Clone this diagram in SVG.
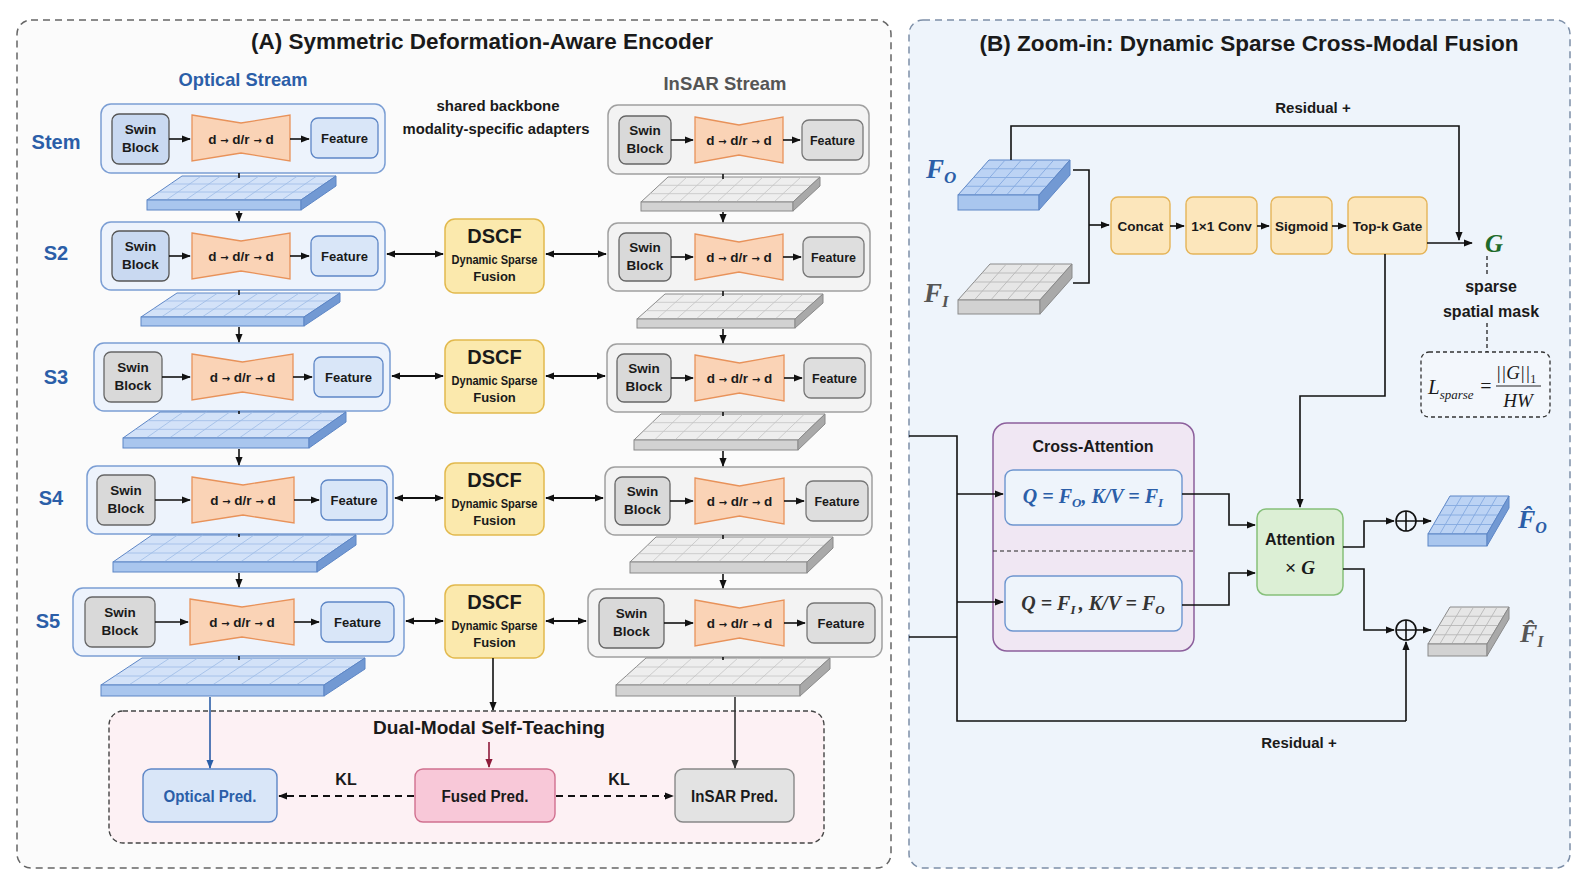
<svg xmlns="http://www.w3.org/2000/svg" xmlns:xlink="http://www.w3.org/1999/xlink" width="1588" height="886" viewBox="0 0 1588 886">
<style>
text{font-family:"Liberation Sans",Arial,sans-serif;font-weight:bold;fill:#1a1a1a;text-anchor:middle}
.t22{font-size:22px}
.t19{font-size:19px}
.t15{font-size:15px}
.t14{font-size:13.5px}
.t13{font-size:13px}
.t16{font-size:16px}
.blue{fill:#2b5ea8}
.gray{fill:#555}
.m{font-family:"Liberation Serif","DejaVu Serif",serif;font-style:italic}
.ar{font-family:"DejaVu Sans",sans-serif;font-size:10px}
.ln{fill:none;stroke:#111;stroke-width:1.6}
.la{fill:none;stroke:#111;stroke-width:1.6;marker-end:url(#a)}
.da{fill:none;stroke:#111;stroke-width:2;marker-start:url(#a);marker-end:url(#a)}
.oOut{fill:#edf3fc;stroke:#7b9ed4;stroke-width:1.5}
.iOut{fill:#f3f3f3;stroke:#a0a0a0;stroke-width:1.5}
.swB{fill:#c9d9f1;stroke:#555;stroke-width:1.3}
.swG{fill:#d9d9d9;stroke:#666;stroke-width:1.3}
.ftB{fill:#d9e6f8;stroke:#5d86c6;stroke-width:1.3}
.ftG{fill:#dedede;stroke:#777;stroke-width:1.3}
.bow{fill:#fad3b6;stroke:#e8925a;stroke-width:1.3}
.dscf{fill:#fbe9ad;stroke:#e2b94d;stroke-width:1.5}
.org{fill:#fce6bb;stroke:#e5b458;stroke-width:1.4}
.oFront{fill:#a9c6ee;stroke:#5d86c6;stroke-width:1}
.oSide{fill:#7299d3;stroke:#5d86c6;stroke-width:1}
.iFront{fill:#d2d2d2;stroke:#8a8a8a;stroke-width:1}
.iSide{fill:#a9a9a9;stroke:#8a8a8a;stroke-width:1}
</style>
<defs>
<marker id="a" viewBox="0 0 10 10" refX="9" refY="5" markerWidth="9" markerHeight="9" markerUnits="userSpaceOnUse" orient="auto-start-reverse"><path d="M0,1 L10,5 L0,9 Z" fill="#111"/></marker>
<marker id="ab" viewBox="0 0 10 10" refX="9" refY="5" markerWidth="9" markerHeight="9" markerUnits="userSpaceOnUse" orient="auto-start-reverse"><path d="M0,1 L10,5 L0,9 Z" fill="#2b5ea8"/></marker>
<marker id="ar" viewBox="0 0 10 10" refX="9" refY="5" markerWidth="9" markerHeight="9" markerUnits="userSpaceOnUse" orient="auto-start-reverse"><path d="M0,1 L10,5 L0,9 Z" fill="#8e1b3a"/></marker>
<marker id="ag" viewBox="0 0 10 10" refX="9" refY="5" markerWidth="9" markerHeight="9" markerUnits="userSpaceOnUse" orient="auto-start-reverse"><path d="M0,1 L10,5 L0,9 Z" fill="#333"/></marker>
<g id="gO8">
<rect x="0" y="0" width="1" height="1" fill="#d3e2f8" stroke="#5d86c6" stroke-width="1" vector-effect="non-scaling-stroke"/>
<path d="M0.125,0V1M0.25,0V1M0.375,0V1M0.5,0V1M0.625,0V1M0.75,0V1M0.875,0V1M0,0.333H1M0,0.667H1" stroke="#9dbbe6" stroke-width="0.8" fill="none" vector-effect="non-scaling-stroke"/>
</g>
<g id="gI8">
<rect x="0" y="0" width="1" height="1" fill="#eeeeee" stroke="#8a8a8a" stroke-width="1" vector-effect="non-scaling-stroke"/>
<path d="M0.125,0V1M0.25,0V1M0.375,0V1M0.5,0V1M0.625,0V1M0.75,0V1M0.875,0V1M0,0.333H1M0,0.667H1" stroke="#c4c4c4" stroke-width="0.8" fill="none" vector-effect="non-scaling-stroke"/>
</g>
<g id="gO5">
<rect x="0" y="0" width="1" height="1" fill="#bcd3f4" stroke="#5d86c6" stroke-width="1" vector-effect="non-scaling-stroke"/>
<path d="M0.2,0V1M0.4,0V1M0.6,0V1M0.8,0V1M0,0.25H1M0,0.5H1M0,0.75H1" stroke="#85a9e0" stroke-width="0.9" fill="none" vector-effect="non-scaling-stroke"/>
</g>
<g id="gI5">
<rect x="0" y="0" width="1" height="1" fill="#e6e6e6" stroke="#8a8a8a" stroke-width="1" vector-effect="non-scaling-stroke"/>
<path d="M0.2,0V1M0.4,0V1M0.6,0V1M0.8,0V1M0,0.25H1M0,0.5H1M0,0.75H1" stroke="#b8b8b8" stroke-width="0.9" fill="none" vector-effect="non-scaling-stroke"/>
</g>
</defs>

<rect x="0" y="0" width="1588" height="886" fill="#ffffff"/>

<g id="panelA">
<rect x="17" y="20" width="874" height="848" rx="14" fill="#fbfbfb" stroke="#666" stroke-width="1.5" stroke-dasharray="7 5"/>
<text class="t22" x="482" y="49" textLength="462" lengthAdjust="spacingAndGlyphs">(A) Symmetric Deformation-Aware Encoder</text>
<text class="t19 blue" x="243" y="86" textLength="129" lengthAdjust="spacingAndGlyphs">Optical Stream</text>
<text class="t19 gray" x="725" y="90" textLength="123" lengthAdjust="spacingAndGlyphs">InSAR Stream</text>
<text class="t15" x="498" y="111" textLength="123" lengthAdjust="spacingAndGlyphs">shared backbone</text>
<text class="t15" x="496" y="134" textLength="187" lengthAdjust="spacingAndGlyphs">modality-specific adapters</text>
<text class="blue" font-size="20" x="56" y="149">Stem</text>
<text class="blue" font-size="20" x="56" y="260">S2</text>
<text class="blue" font-size="20" x="56" y="384">S3</text>
<text class="blue" font-size="20" x="51" y="505">S4</text>
<text class="blue" font-size="20" x="48" y="628">S5</text>
</g>

<!-- Optical stages -->
<g id="opt-stem">
<rect class="oOut" x="101" y="104" width="284" height="69" rx="10"/>
<rect class="swB" x="112" y="114" width="57" height="50" rx="7"/>
<text class="t14" x="140.5" y="134">Swin</text><text class="t14" x="140.5" y="152">Block</text>
<path class="bow" d="M192 115 L241 123 L290 115 L290 161 L241 153 L192 161 Z"/>
<text class="t14" x="241" y="144">d <tspan class="ar">→</tspan> d/r <tspan class="ar">→</tspan> d</text>
<rect class="ftB" x="311" y="118" width="67" height="40" rx="7"/>
<text class="t14" x="344.5" y="143" textLength="47" lengthAdjust="spacingAndGlyphs">Feature</text>
</g>
<g id="opt-s2">
<rect class="oOut" x="101" y="222" width="284" height="68" rx="10"/>
<rect class="swB" x="112" y="231" width="57" height="50" rx="7"/>
<text class="t14" x="140.5" y="251">Swin</text><text class="t14" x="140.5" y="269">Block</text>
<path class="bow" d="M192 233 L241 241 L290 233 L290 279 L241 271 L192 279 Z"/>
<text class="t14" x="241" y="261">d <tspan class="ar">→</tspan> d/r <tspan class="ar">→</tspan> d</text>
<rect class="ftB" x="311" y="236" width="67" height="40" rx="7"/>
<text class="t14" x="344.5" y="261" textLength="47" lengthAdjust="spacingAndGlyphs">Feature</text>
</g>
<g id="opt-s3">
<rect class="oOut" x="94" y="343" width="296" height="68" rx="10"/>
<rect class="swG" x="104" y="352" width="58" height="50" rx="7"/>
<text class="t14" x="133" y="372">Swin</text><text class="t14" x="133" y="390">Block</text>
<path class="bow" d="M192 354 L242.5 362 L293 354 L293 400 L242.5 392 L192 400 Z"/>
<text class="t14" x="242.5" y="382">d <tspan class="ar">→</tspan> d/r <tspan class="ar">→</tspan> d</text>
<rect class="ftB" x="314" y="357" width="69" height="40" rx="7"/>
<text class="t14" x="348.5" y="382" textLength="47" lengthAdjust="spacingAndGlyphs">Feature</text>
</g>
<g id="opt-s4">
<rect class="oOut" x="87" y="466" width="306" height="68" rx="10"/>
<rect class="swG" x="97" y="475" width="58" height="50" rx="7"/>
<text class="t14" x="126" y="495">Swin</text><text class="t14" x="126" y="513">Block</text>
<path class="bow" d="M192 477 L243 485 L294 477 L294 523 L243 515 L192 523 Z"/>
<text class="t14" x="243" y="505">d <tspan class="ar">→</tspan> d/r <tspan class="ar">→</tspan> d</text>
<rect class="ftB" x="321" y="480" width="66" height="40" rx="7"/>
<text class="t14" x="354" y="505" textLength="47" lengthAdjust="spacingAndGlyphs">Feature</text>
</g>
<g id="opt-s5">
<rect class="oOut" x="73" y="588" width="331" height="68" rx="10"/>
<rect class="swG" x="85" y="597" width="70" height="50" rx="7"/>
<text class="t14" x="120" y="617">Swin</text><text class="t14" x="120" y="635">Block</text>
<path class="bow" d="M190 599 L242 607 L294 599 L294 645 L242 637 L190 645 Z"/>
<text class="t14" x="242" y="627">d <tspan class="ar">→</tspan> d/r <tspan class="ar">→</tspan> d</text>
<rect class="ftB" x="321" y="602" width="73" height="40" rx="7"/>
<text class="t14" x="357.5" y="627" textLength="47" lengthAdjust="spacingAndGlyphs">Feature</text>
</g>

<!-- InSAR stages -->
<g id="ins-stem">
<rect class="iOut" x="608" y="105" width="261" height="69" rx="10"/>
<rect class="swG" x="619" y="116" width="52" height="48" rx="7"/>
<text class="t14" x="645" y="135">Swin</text><text class="t14" x="645" y="153">Block</text>
<path class="bow" d="M695 117 L739 125 L783 117 L783 163 L739 155 L695 163 Z"/>
<text class="t14" x="739" y="145">d <tspan class="ar">→</tspan> d/r <tspan class="ar">→</tspan> d</text>
<rect class="ftG" x="802" y="120" width="61" height="40" rx="7"/>
<text class="t14" x="832.5" y="145" textLength="45" lengthAdjust="spacingAndGlyphs">Feature</text>
</g>
<g id="ins-s2">
<rect class="iOut" x="608" y="223" width="262" height="68" rx="10"/>
<rect class="swG" x="619" y="233" width="52" height="48" rx="7"/>
<text class="t14" x="645" y="252">Swin</text><text class="t14" x="645" y="270">Block</text>
<path class="bow" d="M695 234 L739 242 L783 234 L783 280 L739 272 L695 280 Z"/>
<text class="t14" x="739" y="262">d <tspan class="ar">→</tspan> d/r <tspan class="ar">→</tspan> d</text>
<rect class="ftG" x="803" y="237" width="61" height="40" rx="7"/>
<text class="t14" x="833.5" y="262" textLength="45" lengthAdjust="spacingAndGlyphs">Feature</text>
</g>
<g id="ins-s3">
<rect class="iOut" x="607" y="344" width="264" height="68" rx="10"/>
<rect class="swG" x="617" y="354" width="54" height="48" rx="7"/>
<text class="t14" x="644" y="373">Swin</text><text class="t14" x="644" y="391">Block</text>
<path class="bow" d="M695 355 L739.5 363 L784 355 L784 401 L739.5 393 L695 401 Z"/>
<text class="t14" x="739.5" y="383">d <tspan class="ar">→</tspan> d/r <tspan class="ar">→</tspan> d</text>
<rect class="ftG" x="804" y="358" width="61" height="40" rx="7"/>
<text class="t14" x="834.5" y="383" textLength="45" lengthAdjust="spacingAndGlyphs">Feature</text>
</g>
<g id="ins-s4">
<rect class="iOut" x="605" y="467" width="267" height="68" rx="10"/>
<rect class="swG" x="615" y="477" width="55" height="48" rx="7"/>
<text class="t14" x="642.5" y="496">Swin</text><text class="t14" x="642.5" y="514">Block</text>
<path class="bow" d="M695 478 L739.5 486 L784 478 L784 524 L739.5 516 L695 524 Z"/>
<text class="t14" x="739.5" y="506">d <tspan class="ar">→</tspan> d/r <tspan class="ar">→</tspan> d</text>
<rect class="ftG" x="806" y="481" width="62" height="40" rx="7"/>
<text class="t14" x="837" y="506" textLength="45" lengthAdjust="spacingAndGlyphs">Feature</text>
</g>
<g id="ins-s5">
<rect class="iOut" x="588" y="589" width="294" height="68" rx="10"/>
<rect class="swG" x="599" y="598" width="65" height="50" rx="7"/>
<text class="t14" x="631.5" y="618">Swin</text><text class="t14" x="631.5" y="636">Block</text>
<path class="bow" d="M695 600 L739.5 608 L784 600 L784 646 L739.5 638 L695 646 Z"/>
<text class="t14" x="739.5" y="628">d <tspan class="ar">→</tspan> d/r <tspan class="ar">→</tspan> d</text>
<rect class="ftG" x="807" y="603" width="68" height="40" rx="7"/>
<text class="t14" x="841" y="628" textLength="47" lengthAdjust="spacingAndGlyphs">Feature</text>
</g>

<!-- Slabs optical -->
<g id="slabs-opt">
<use xlink:href="#gO8" href="#gO8" transform="matrix(154,0,35,-24,147,200)"/>
<rect class="oFront" x="147" y="200" width="154" height="10"/><polygon class="oSide" points="301,200 336,176 336,186 301,210"/>
<use xlink:href="#gO8" href="#gO8" transform="matrix(163,0,36,-24,141,317)"/>
<rect class="oFront" x="141" y="317" width="163" height="9"/><polygon class="oSide" points="304,317 340,293 340,302 304,326"/>
<use xlink:href="#gO8" href="#gO8" transform="matrix(186,0,37,-26,123,438)"/>
<rect class="oFront" x="123" y="438" width="186" height="10"/><polygon class="oSide" points="309,438 346,412 346,422 309,448"/>
<use xlink:href="#gO8" href="#gO8" transform="matrix(204,0,39,-27,113,562)"/>
<rect class="oFront" x="113" y="562" width="204" height="10"/><polygon class="oSide" points="317,562 356,535 356,545 317,572"/>
<use xlink:href="#gO8" href="#gO8" transform="matrix(223,0,41,-27,101,685)"/>
<rect class="oFront" x="101" y="685" width="223" height="11"/><polygon class="oSide" points="324,685 365,658 365,669 324,696"/>
</g>
<g id="slabs-ins">
<use xlink:href="#gI8" href="#gI8" transform="matrix(152,0,27,-25,641,202)"/>
<rect class="iFront" x="641" y="202" width="152" height="9"/><polygon class="iSide" points="793,202 820,177 820,186 793,211"/>
<use xlink:href="#gI8" href="#gI8" transform="matrix(158,0,28,-25,637,319)"/>
<rect class="iFront" x="637" y="319" width="158" height="9"/><polygon class="iSide" points="795,319 823,294 823,303 795,328"/>
<use xlink:href="#gI8" href="#gI8" transform="matrix(164,0,27,-26,634,440)"/>
<rect class="iFront" x="634" y="440" width="164" height="10"/><polygon class="iSide" points="798,440 825,414 825,424 798,450"/>
<use xlink:href="#gI8" href="#gI8" transform="matrix(177,0,26,-25,630,562)"/>
<rect class="iFront" x="630" y="562" width="177" height="11"/><polygon class="iSide" points="807,562 833,537 833,548 807,573"/>
<use xlink:href="#gI8" href="#gI8" transform="matrix(184,0,30,-27,616,685)"/>
<rect class="iFront" x="616" y="685" width="184" height="11"/><polygon class="iSide" points="800,685 830,658 830,669 800,696"/>
</g>

<!-- DSCF -->
<g id="dscf-s2"><rect class="dscf" x="445" y="219" width="99" height="74" rx="10"/>
<text font-size="20" x="494.5" y="243">DSCF</text><text class="t13" x="494.5" y="264" textLength="86" lengthAdjust="spacingAndGlyphs">Dynamic Sparse</text><text class="t13" x="494.5" y="281">Fusion</text></g>
<g id="dscf-s3"><rect class="dscf" x="445" y="340" width="99" height="73" rx="10"/>
<text font-size="20" x="494.5" y="364">DSCF</text><text class="t13" x="494.5" y="385" textLength="86" lengthAdjust="spacingAndGlyphs">Dynamic Sparse</text><text class="t13" x="494.5" y="402">Fusion</text></g>
<g id="dscf-s4"><rect class="dscf" x="445" y="463" width="99" height="72" rx="10"/>
<text font-size="20" x="494.5" y="487">DSCF</text><text class="t13" x="494.5" y="508" textLength="86" lengthAdjust="spacingAndGlyphs">Dynamic Sparse</text><text class="t13" x="494.5" y="525">Fusion</text></g>
<g id="dscf-s5"><rect class="dscf" x="445" y="585" width="99" height="73" rx="10"/>
<text font-size="20" x="494.5" y="609">DSCF</text><text class="t13" x="494.5" y="630" textLength="86" lengthAdjust="spacingAndGlyphs">Dynamic Sparse</text><text class="t13" x="494.5" y="647">Fusion</text></g>

<!-- Self-teaching -->
<g id="selfteach">
<rect x="109" y="711" width="715" height="132" rx="14" fill="#fdf1f4" stroke="#444" stroke-width="1.4" stroke-dasharray="5 3"/>
<text class="t19" x="489" y="734" textLength="232" lengthAdjust="spacingAndGlyphs">Dual-Modal Self-Teaching</text>
</g>
<g id="optical-pred"><rect x="143" y="769" width="134" height="53" rx="8" fill="#d9e6f8" stroke="#5d86c6" stroke-width="1.4"/>
<text class="t16 blue" x="210" y="802" textLength="93" lengthAdjust="spacingAndGlyphs">Optical Pred.</text></g>
<g id="fused-pred"><rect x="415" y="769" width="140" height="53" rx="8" fill="#f8c8d8" stroke="#d0708f" stroke-width="1.4"/>
<text class="t16" x="485" y="802" textLength="87" lengthAdjust="spacingAndGlyphs">Fused Pred.</text></g>
<g id="insar-pred"><rect x="675" y="769" width="119" height="53" rx="8" fill="#e3e3e3" stroke="#888" stroke-width="1.4"/>
<text class="t16" x="734.5" y="802" textLength="87" lengthAdjust="spacingAndGlyphs">InSAR Pred.</text></g>

<!-- Panel B -->
<g id="panelB">
<rect x="909" y="20" width="661" height="848" rx="14" fill="#eef4fb" stroke="#7d8fa8" stroke-width="1.5" stroke-dasharray="7 5"/>
<text class="t22" x="1249" y="51" textLength="539" lengthAdjust="spacingAndGlyphs">(B) Zoom-in: Dynamic Sparse Cross-Modal Fusion</text>
<text class="t15" x="1313" y="113">Residual +</text>
<text class="t15" x="1299" y="748">Residual +</text>
<text class="t16" x="1491" y="292">sparse</text>
<text class="t16" x="1491" y="317">spatial mask</text>
</g>
<g id="FO">
<use xlink:href="#gO5" href="#gO5" transform="matrix(81,0,31,-35,958,195)"/>
<rect class="oFront" x="958" y="195" width="81" height="15"/><polygon class="oSide" points="1039,195 1070,160 1070,175 1039,210"/>
<text class="m blue" font-size="27" x="926" y="178" style="text-anchor:start">F<tspan font-size="17" dy="5">O</tspan></text>
</g>
<g id="FI">
<use xlink:href="#gI5" href="#gI5" transform="matrix(82,0,32,-36,958,300)"/>
<rect class="iFront" x="958" y="300" width="82" height="14"/><polygon class="iSide" points="1040,300 1072,264 1072,278 1040,314"/>
<text class="m gray" font-size="27" x="924" y="302" style="text-anchor:start">F<tspan font-size="17" dy="5">I</tspan></text>
</g>
<g id="concat"><rect class="org" x="1111" y="197" width="59" height="57" rx="7"/><text class="t14" x="1140.5" y="231">Concat</text></g>
<g id="conv"><rect class="org" x="1186" y="197" width="71" height="57" rx="7"/><text class="t14" x="1221.5" y="231">1×1 Conv</text></g>
<g id="sigmoid"><rect class="org" x="1271" y="197" width="61" height="57" rx="7"/><text class="t14" x="1301.5" y="231">Sigmoid</text></g>
<g id="topk"><rect class="org" x="1348" y="197" width="79" height="57" rx="7"/><text class="t14" x="1387.5" y="231">Top-k Gate</text></g>
<g id="G"><text class="m" font-size="25" x="1494" y="252" style="fill:#1e6b2a">G</text></g>
<g id="Lsparse">
<rect x="1421" y="352" width="129" height="65" rx="8" fill="#f3f7fc" stroke="#333" stroke-width="1.3" stroke-dasharray="4 3"/>
<text class="m" font-size="21" x="1428" y="394" style="font-weight:normal;text-anchor:start">L<tspan font-size="13" dy="5">sparse</tspan></text>
<text font-size="20" x="1486" y="393" style="font-weight:normal;font-family:'Liberation Serif',serif">=</text>
<line x1="1496" y1="386" x2="1541" y2="386" stroke="#222" stroke-width="1.2"/>
<text class="m" font-size="19" x="1516" y="379" style="font-weight:normal">||G||<tspan font-size="12" dy="4" font-style="normal">1</tspan></text>
<text class="m" font-size="19" x="1518" y="407" style="font-weight:normal">HW</text>
</g>
<g id="cross-attn">
<rect x="993" y="423" width="201" height="228" rx="14" fill="#f0e7f3" stroke="#8c5f9c" stroke-width="1.5"/>
<text class="t16" x="1093" y="452">Cross-Attention</text>
<line x1="993" y1="551" x2="1194" y2="551" stroke="#222" stroke-width="1.2" stroke-dasharray="4 3"/>
<rect x="1005" y="470" width="177" height="55" rx="8" fill="#eef4fb" stroke="#6d95cf" stroke-width="1.4"/>
<text class="m blue" font-size="20" x="1093" y="503">Q = F<tspan font-size="13" dy="4">O</tspan><tspan dy="-4">, K/V = F</tspan><tspan font-size="13" dy="4">I</tspan></text>
<rect x="1005" y="576" width="177" height="55" rx="8" fill="#eef4fb" stroke="#6d95cf" stroke-width="1.4"/>
<text class="m" font-size="20" x="1093" y="610" style="fill:#333">Q = F<tspan font-size="13" dy="4">I </tspan><tspan dy="-4">, K/V = F</tspan><tspan font-size="13" dy="4">O</tspan></text>
</g>
<g id="attention">
<rect x="1257" y="509" width="86" height="86" rx="9" fill="#dcefd5" stroke="#86c07a" stroke-width="1.5"/>
<text class="t16" x="1300" y="545">Attention</text>
<text font-size="19" x="1300" y="574" style="font-weight:normal">× <tspan class="m" style="font-weight:bold">G</tspan></text>
</g>
<g id="plus1"><circle cx="1406" cy="521" r="10" fill="none" stroke="#111" stroke-width="1.6"/><path d="M1396 521H1416M1406 511V531" stroke="#111" stroke-width="1.6"/></g>
<g id="plus2"><circle cx="1406" cy="630" r="10" fill="none" stroke="#111" stroke-width="1.6"/><path d="M1396 630H1416M1406 620V640" stroke="#111" stroke-width="1.6"/></g>
<g id="FOhat">
<use xlink:href="#gO5" href="#gO5" transform="matrix(59,0,22,-38,1428,534)"/>
<rect class="oFront" x="1428" y="534" width="59" height="12"/><polygon class="oSide" points="1487,534 1509,496 1509,508 1487,546"/>
<text class="m blue" font-size="26" x="1518" y="528" style="text-anchor:start">F̂<tspan font-size="16" dy="5">O</tspan></text>
</g>
<g id="FIhat">
<use xlink:href="#gI5" href="#gI5" transform="matrix(59,0,22,-37,1428,644)"/>
<rect class="iFront" x="1428" y="644" width="59" height="12"/><polygon class="iSide" points="1487,644 1509,607 1509,619 1487,656"/>
<text class="m gray" font-size="26" x="1520" y="642" style="text-anchor:start">F̂<tspan font-size="16" dy="5">I</tspan></text>
</g>

<!-- Connectors -->
<g id="connectors">
<path class="la" d="M169 139H190"/><path class="la" d="M290 139H309"/>
<path class="la" d="M169 256H190"/><path class="la" d="M290 256H309"/>
<path class="la" d="M162 377H190"/><path class="la" d="M293 377H312"/>
<path class="la" d="M155 500H190"/><path class="la" d="M294 500H319"/>
<path class="la" d="M155 622H188"/><path class="la" d="M294 622H319"/>
<path class="la" d="M671 140H693"/><path class="la" d="M783 140H800"/>
<path class="la" d="M671 257H693"/><path class="la" d="M783 257H801"/>
<path class="la" d="M671 378H693"/><path class="la" d="M784 378H802"/>
<path class="la" d="M670 501H693"/><path class="la" d="M784 501H804"/>
<path class="la" d="M664 623H693"/><path class="la" d="M784 623H805"/>
<path class="la" d="M239 211V221"/><path class="la" d="M239 327V342"/><path class="la" d="M239 449V465"/><path class="la" d="M239 573V587"/>
<path class="ln" d="M239 173V178M239 290V295M239 411V414M239 534V537M239 656V660"/>
<path class="la" d="M723 212V222"/><path class="la" d="M723 329V343"/><path class="la" d="M723 451V466"/><path class="la" d="M723 574V588"/>
<path class="ln" d="M723 174V179M723 291V296M723 412V416M723 535V539M723 657V660"/>
<path class="da" d="M387 254H443"/><path class="da" d="M546 254H606"/>
<path class="da" d="M392 376H443"/><path class="da" d="M546 376H605"/>
<path class="da" d="M395 498H443"/><path class="da" d="M546 498H603"/>
<path class="da" d="M406 621H443"/><path class="da" d="M546 621H586"/>
<path class="la" d="M493 658V710"/>
<path d="M210 697V768" fill="none" stroke="#2b5ea8" stroke-width="1.6" marker-end="url(#ab)"/>
<path d="M735 697V768" fill="none" stroke="#333" stroke-width="1.6" marker-end="url(#ag)"/>
<path d="M489 742V767" fill="none" stroke="#8e1b3a" stroke-width="1.6" marker-end="url(#ar)"/>
<path d="M414 796H279" fill="none" stroke="#111" stroke-width="2" stroke-dasharray="7 5" marker-end="url(#a)"/>
<path d="M556 796H673" fill="none" stroke="#111" stroke-width="2" stroke-dasharray="7 5" marker-end="url(#a)"/>
<text class="t16" x="346" y="785">KL</text>
<text class="t16" x="619" y="785">KL</text>
<path class="la" d="M1011 160V126H1459V240"/>
<path class="ln" d="M1073 170H1089V283H1073"/>
<path class="la" d="M1089 225H1109"/>
<path class="la" d="M1170 226H1184"/><path class="la" d="M1257 226H1269"/><path class="la" d="M1332 226H1346"/>
<path class="la" d="M1427 243H1472"/>
<path d="M1487 256V275M1487 323V352" fill="none" stroke="#222" stroke-width="1.3" stroke-dasharray="4 3"/>
<path class="la" d="M1385 254V396H1300V507"/>
<path class="ln" d="M909 436H957V721H1406"/>
<path class="la" d="M1406 721V642"/>
<path class="ln" d="M909 637H957"/>
<path class="la" d="M957 494H1003"/><path class="la" d="M957 602H1003"/>
<path class="la" d="M1182 494H1229V525H1255"/>
<path class="la" d="M1182 605H1229V573H1255"/>
<path class="la" d="M1343 547H1364V521H1394"/>
<path class="la" d="M1343 569H1364V630H1394"/>
<path class="la" d="M1416 521H1431"/>
<path class="la" d="M1416 630H1431"/>
</g>
</svg>
